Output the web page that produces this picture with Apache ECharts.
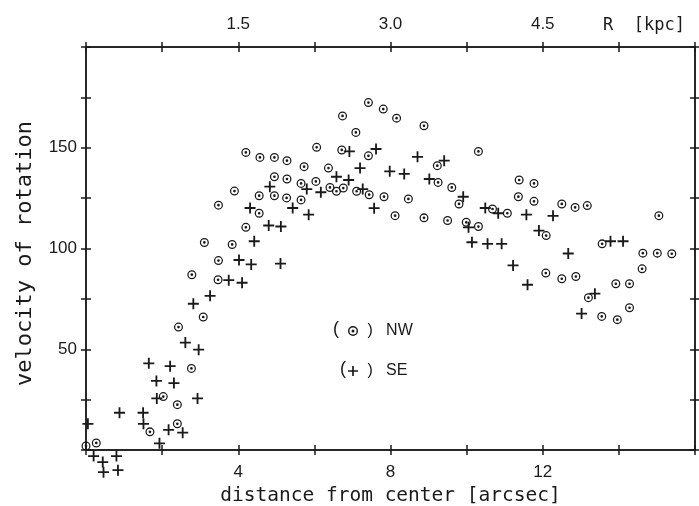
<!DOCTYPE html>
<html>
<head>
<meta charset="utf-8">
<script src="https://cdn.jsdelivr.net/npm/echarts@6/dist/echarts.min.js"></script>
<style>
html,body{margin:0;padding:0;background:#fff;}
#chart{width:699px;height:506px;}
</style>
</head>
<body>
<div id="chart"></div>
<script>
// NW side: [distance arcsec, velocity]
const nwPoints = [
  [0.0, 2], [0.27, 3.5], [1.68, 9], [2.03, 26.5], [2.40, 22.5], [2.40, 13], [2.43, 61],
  [2.77, 40.5], [2.78, 87], [3.08, 66], [3.11, 103], [3.47, 84.5], [3.48, 94], [3.48, 121.5],
  [3.84, 102], [3.90, 128.5], [4.20, 110.5], [4.20, 147.7], [4.55, 117.5], [4.55, 126.2],
  [4.57, 145.2], [4.95, 145.2], [4.95, 135.6], [4.95, 126.2], [5.28, 143.6], [5.28, 134.5],
  [5.27, 125.1], [5.65, 132.3], [5.65, 124.1], [5.73, 140.6], [6.04, 133.3], [6.06, 150.2],
  [6.37, 139.9], [6.41, 130.3], [6.58, 128.4], [6.72, 148.9], [6.74, 165.8], [6.76, 130.0],
  [7.09, 157.6], [7.11, 128.4], [7.42, 172.4], [7.42, 146.0], [7.44, 126.7], [7.81, 169.2],
  [7.83, 125.7], [8.12, 116.3], [8.16, 164.7], [8.47, 124.6], [8.88, 160.9], [8.88, 115.2],
  [9.23, 141.1], [9.25, 132.8], [9.50, 113.9], [9.61, 130.3], [9.80, 122.1], [9.99, 113.0],
  [10.31, 110.9], [10.31, 148.2], [10.68, 119.6], [11.07, 117.5], [11.36, 125.7], [11.38, 134.0],
  [11.77, 132.3], [11.77, 123.4], [12.08, 87.8], [12.09, 106.4], [12.50, 122.1], [12.50, 85.0],
  [12.85, 120.4], [12.87, 86.1], [13.17, 121.3], [13.20, 75.6], [13.55, 66.3], [13.56, 102.3],
  [13.92, 82.5], [13.96, 64.7], [14.28, 82.5], [14.28, 70.6], [14.61, 89.9], [14.63, 97.7],
  [15.01, 97.7], [15.05, 116.3], [15.39, 97.4]
];
// SE side: [distance arcsec, velocity]
const sePoints = [
  [0.05, 13], [0.2, -3], [0.44, -6], [0.46, -11], [0.8, -3], [0.84, -10], [0.88, 18.5],
  [1.5, 18.5], [1.51, 13], [1.65, 43], [1.85, 34.3], [1.86, 25.6], [1.93, 3.3], [2.17, 10],
  [2.21, 41.6], [2.31, 33.2], [2.54, 8.6], [2.61, 53.3], [2.82, 72.6], [2.93, 25.6], [2.96, 49.8],
  [3.26, 76.5], [3.75, 84.3], [4.02, 94.3], [4.10, 83], [4.34, 92.1], [4.31, 120.1], [4.42, 103.6],
  [4.80, 111.4], [4.83, 130.7], [5.12, 110.9], [5.11, 92.5], [5.43, 120.1], [5.80, 129.5],
  [5.85, 116.8], [6.17, 127.9], [6.58, 135.6], [6.90, 134.0], [6.92, 148.2], [7.20, 139.9],
  [7.27, 129.5], [7.57, 120], [7.62, 149.4], [7.98, 138.3], [8.36, 137.0], [8.71, 145.5],
  [9.02, 134.5], [9.41, 143.6], [9.91, 125.7], [10.05, 110.5], [10.14, 103.1], [10.49, 120.1],
  [10.55, 102.3], [10.83, 117.5], [10.92, 102.3], [11.22, 91.6], [11.57, 116.8], [11.60, 82.0],
  [11.90, 108.9], [12.27, 116.2], [12.67, 97.5], [13.02, 67.7], [13.37, 77.6], [13.78, 103.6],
  [14.11, 103.6]
];
const seriesNames = ['NW', 'SE'];
const xLabelAt = [4, 8, 12];
const xLabels = ['4', '8', '12'];
const kpcLabels = ['1.5', '3.0', '4.5'];
const yLabelAt = [50, 100, 150];
const yLabels = ['50', '100', '150'];
const xTitle = 'distance from center [arcsec]';
const yTitle = 'velocity of rotation';
const topTitle = 'R  [kpc]';

const INK = '#1a1a1a';
const MONO = "'DejaVu Sans Mono', monospace";
const SANS = "'Liberation Sans', Arial, sans-serif";
const nwSymbol = 'path://M10,0A10,10,0,1,1,-10,0A10,10,0,1,1,10,0ZM7.2,0A7.2,7.2,0,1,0,-7.2,0A7.2,7.2,0,1,0,7.2,0ZM3,0A3,3,0,1,1,-3,0A3,3,0,1,1,3,0Z';
const seSymbol = 'path://M-1,-6H1V-1H6V1H1V6H-1V1H-6V-1H-1Z';

function pick(at, labels) {
  return v => { const i = at.indexOf(Math.round(v * 1000) / 1000); return i >= 0 ? labels[i] : ''; };
}
const lineStyle = { color: INK, width: 1.5 };
function xAx(pos, inside, labels) {
  return {
    type: 'value', position: pos, min: 0, max: 16, interval: 2,
    axisLine: { show: true, onZero: false, lineStyle },
    axisTick: { show: true, inside, length: 5, lineStyle },
    splitLine: { show: false },
    axisLabel: labels ? {
      show: true, formatter: pick(xLabelAt, labels), color: INK,
      fontFamily: SANS, fontSize: 17, margin: 14
    } : { show: false }
  };
}
function yAx(pos, inside, labels) {
  return {
    type: 'value', position: pos, min: 0, max: 200, interval: 25,
    axisLine: { show: true, onZero: false, lineStyle },
    axisTick: { show: true, inside, length: 5, lineStyle },
    splitLine: { show: false },
    axisLabel: labels ? {
      show: true, formatter: pick(yLabelAt, labels), color: INK,
      fontFamily: SANS, fontSize: 17, margin: 9
    } : { show: false }
  };
}

const xAxes = [xAx('bottom', false, xLabels), xAx('top', false, kpcLabels), xAx('bottom', true, null), xAx('top', true, null)];
xAxes[0].name = xTitle;
xAxes[0].nameLocation = 'middle';
xAxes[0].nameGap = 35;
xAxes[0].nameTextStyle = { color: INK, fontFamily: MONO, fontSize: 19.5 };
const yAxes = [yAx('left', false, yLabels), yAx('right', false, null), yAx('left', true, null), yAx('right', true, null)];
yAxes[0].name = yTitle;
yAxes[0].nameLocation = 'middle';
yAxes[0].nameGap = 50;
yAxes[0].nameTextStyle = { color: INK, fontFamily: MONO, fontSize: 22, padding: [0, 10, 0, 0] };

const chart = echarts.init(document.getElementById('chart'), null, { renderer: 'canvas' });
chart.setOption({
  animation: false,
  backgroundColor: '#ffffff',
  grid: { left: 86, top: 47, width: 609, height: 403, containLabel: false, outerBoundsMode: 'none' },
  title: {
    text: topTitle, left: 598, top: 12,
    textStyle: { color: INK, fontFamily: MONO, fontSize: 17, fontWeight: 'normal' }
  },
  xAxis: xAxes,
  yAxis: yAxes,
  legend: {
    orient: 'vertical', left: 343, top: 316,
    itemWidth: 10, itemHeight: 10, itemGap: 20,
    data: [
      { name: seriesNames[0], icon: nwSymbol, itemStyle: { color: INK } },
      { name: seriesNames[1], icon: seSymbol, itemStyle: { color: INK } }
    ],
    formatter: n => ' )   ' + n,
    textStyle: { color: INK, fontFamily: SANS, fontSize: 16, lineHeight: 20 }
  },
  graphic: [
    { type: 'text', left: 333, top: 320, style: { text: '(', fill: INK, font: "18px 'Liberation Sans'" } },
    { type: 'text', left: 340, top: 360, style: { text: '(', fill: INK, font: "18px 'Liberation Sans'" } }
  ],
  series: [
    {
      name: seriesNames[0], type: 'scatter', data: nwPoints, clip: false,
      xAxisIndex: 0, yAxisIndex: 0,
      symbol: nwSymbol, symbolSize: 9,
      itemStyle: { color: INK, opacity: 1 }
    },
    {
      name: seriesNames[1], type: 'scatter', data: sePoints, clip: false,
      xAxisIndex: 0, yAxisIndex: 0,
      symbol: seSymbol, symbolSize: 11,
      itemStyle: { color: INK, opacity: 1 }
    }
  ]
});
</script>
</body>
</html>
